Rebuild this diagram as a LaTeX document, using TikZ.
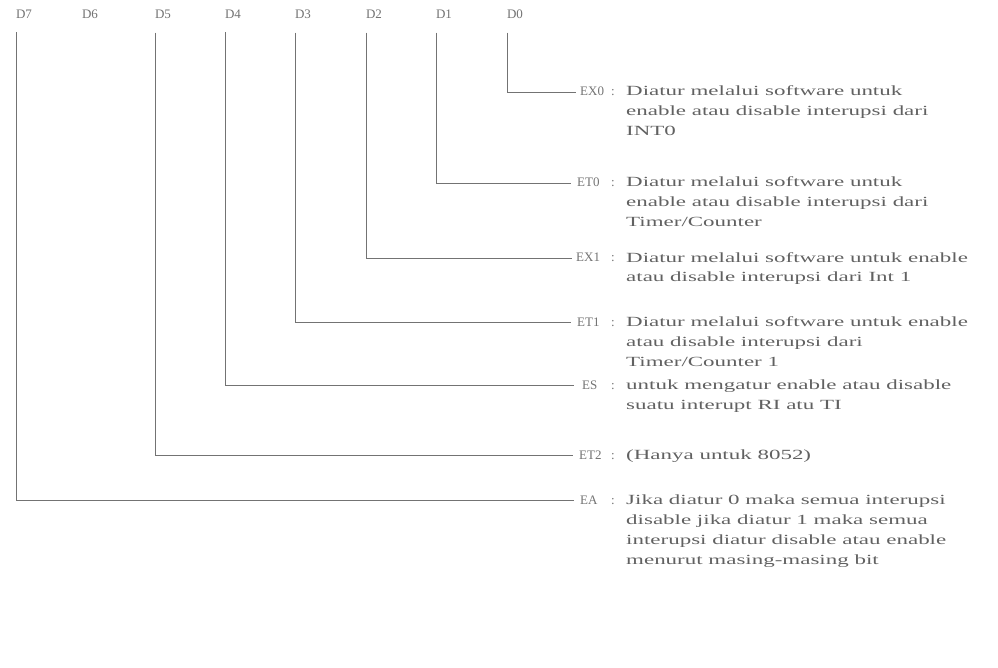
\documentclass[tikz,border=0pt]{standalone}
\usepackage{fontspec}
\setmainfont{Liberation Serif}
\newfontfamily\descfont[FakeStretch=1.64]{Liberation Serif}
\usetikzlibrary{positioning}

\tikzset{
  bitlabel/.style={font=\fontsize{13}{16}\selectfont, text=black!55, inner sep=0pt},
  bitname/.style={font=\fontsize{13}{20}\selectfont, text=black!55, inner sep=0pt, anchor=west},
  bitdesc/.style={font=\descfont\fontsize{14}{20}\selectfont, text=black!62, inner sep=0pt, anchor=north west, align=left},
  wire/.style={draw=black!55, line width=0.8pt}
}

\begin{document}
\begin{tikzpicture}[x=1pt,y=-1pt]
  \useasboundingbox (0,0) rectangle (998,668);

  % bit labels of the register
  \node[bitlabel] (d7) at (24,14) {D7};
  \node[bitlabel] (d6) at (90,14) {D6};
  \node[bitlabel] (d5) at (163,14) {D5};
  \node[bitlabel] (d4) at (233,14) {D4};
  \node[bitlabel] (d3) at (303,14) {D3};
  \node[bitlabel] (d2) at (374,14) {D2};
  \node[bitlabel] (d1) at (444,14) {D1};
  \node[bitlabel] (d0) at (515,14) {D0};

  % names of the bits
  \node[bitname] (ex0) at (580,92)  {\strut EX0};
  \node[bitname] (et0) at (577,183) {\strut ET0};
  \node[bitname] (ex1) at (576,258) {\strut EX1};
  \node[bitname] (et1) at (577,322) {\strut ET1};
  \node[bitname] (es)  at (582,385) {\strut ES};
  \node[bitname] (et2) at (579,455) {\strut ET2};
  \node[bitname] (ea)  at (580,500) {\strut EA};

  % colons and descriptions
  \foreach \b in {ex0,et0,ex1,et1,es,et2,ea}
    \node[bitname] (\b c) at (\b.west -| 611,0) {\strut :};
  \node[bitdesc] (ex0d) at (ex0.north west -| 626,0) {\strut Diatur melalui software untuk\\ enable atau disable interupsi dari\\ INT0};
  \node[bitdesc] (et0d) at (et0.north west -| 626,0) {\strut Diatur melalui software untuk\\ enable atau disable interupsi dari\\ Timer/Counter};
  \node[bitdesc] (ex1d) at (ex1.north west -| 626,0) {\strut Diatur melalui software untuk enable\\ atau disable interupsi dari Int 1};
  \node[bitdesc] (et1d) at (et1.north west -| 626,0) {\strut Diatur melalui software untuk enable\\ atau disable interupsi dari\\ Timer/Counter 1};
  \node[bitdesc] (esd)  at (es.north west -| 626,0)  {\strut untuk mengatur enable atau disable\\ suatu interupt RI atu TI};
  \node[bitdesc] (et2d) at (et2.north west -| 626,0) {\strut (Hanya untuk 8052)};
  \node[bitdesc] (ead)  at (ea.north west -| 626,0)  {\strut Jika diatur 0 maka semua interupsi\\ disable jika diatur 1 maka semua\\ interupsi diatur disable atau enable\\ menurut masing-masing bit};

  % connectors
  \draw[wire] ([xshift=-8pt,yshift=-14pt]d0.south) |- ([xshift=-4pt]ex0.west);
  \draw[wire] ([xshift=-8pt,yshift=-14pt]d1.south) |- ([xshift=-6pt]et0.west);
  \draw[wire] ([xshift=-8pt,yshift=-14pt]d2.south) |- ([xshift=-4pt]ex1.west);
  \draw[wire] ([xshift=-8pt,yshift=-14pt]d3.south) |- ([xshift=-6pt]et1.west);
  \draw[wire] ([xshift=-8pt,yshift=-14pt]d4.south) |- ([xshift=-8pt]es.west);
  \draw[wire] ([xshift=-8pt,yshift=-14pt]d5.south) |- ([xshift=-6pt]et2.west);
  \draw[wire] ([xshift=-8pt,yshift=-14pt]d7.south) |- ([xshift=-6pt]ea.west);
\end{tikzpicture}
\end{document}
